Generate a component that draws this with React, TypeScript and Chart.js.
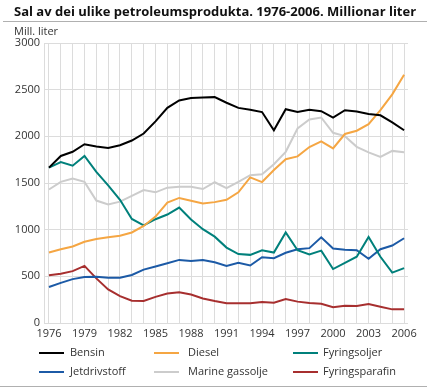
import React, { useEffect, useRef } from "react";
import { Chart, registerables } from "chart.js";

Chart.register(...registerables);

const years = [
  1976, 1977, 1978, 1979, 1980, 1981, 1982, 1983, 1984, 1985, 1986, 1987, 1988, 1989, 1990,
  1991, 1992, 1993, 1994, 1995, 1996, 1997, 1998, 1999, 2000, 2001, 2002, 2003, 2004, 2005, 2006,
];
const bensin = [
  1665, 1790, 1835, 1915, 1890, 1875, 1905, 1955, 2030, 2160, 2305, 2385, 2410, 2415, 2420,
  2360, 2305, 2285, 2260, 2065, 2290, 2260, 2285, 2270, 2200, 2280, 2265, 2240, 2225, 2150, 2065,
];
const diesel = [
  755, 790, 820, 870, 900, 918, 935, 970, 1040, 1140, 1290, 1340, 1310, 1280, 1295,
  1320, 1400, 1560, 1510, 1640, 1755, 1785, 1885, 1945, 1870, 2025, 2060, 2130, 2280, 2450, 2660,
];
const fyringsoljer = [
  1665, 1725, 1685, 1790, 1620, 1475, 1320, 1115, 1045, 1112, 1162, 1237, 1110, 1005, 925,
  808, 738, 730, 778, 755, 970, 780, 735, 775, 578, 645, 710, 922, 710, 540, 588,
];
const jetdrivstoff = [
  385, 430, 470, 492, 495, 485, 485, 515, 572, 605, 640, 676, 665, 676, 650,
  612, 644, 616, 705, 695, 752, 790, 802, 918, 798, 784, 780, 688, 790, 830, 908,
];
const marineGassolje = [
  1430, 1512, 1548, 1512, 1312, 1270, 1300, 1362, 1424, 1400, 1450, 1460, 1460, 1435, 1508,
  1444, 1512, 1584, 1594, 1702, 1834, 2084, 2180, 2202, 2038, 2002, 1888, 1828, 1780, 1844, 1830,
];
const fyringsparafin = [
  512, 528, 556, 612, 478, 360, 288, 238, 235, 280, 316, 330, 305, 262, 235,
  211, 211, 211, 224, 218, 256, 229, 214, 207, 168, 186, 182, 203, 175, 146, 146,
];
const yTicks = [0, 500, 1000, 1500, 2000, 2500, 3000];
const labelEvery = 3;

const seriesNames = ["Bensin", "Diesel", "Fyringsoljer", "Jetdrivstoff", "Marine gassolje", "Fyringsparafin"];
const seriesColors = ["#000000", "#f5a643", "#00807b", "#1c5aa6", "#cccccc", "#a72f2f"];
const seriesData = [bensin, diesel, fyringsoljer, jetdrivstoff, marineGassolje, fyringsparafin];

const FONT = "'Open Sans', 'DejaVu Sans', sans-serif";

export default function App() {
  const ref = useRef<HTMLCanvasElement>(null);

  useEffect(() => {
    document.body.style.margin = "0";
    const ctx = ref.current!;
    const chart = new Chart(ctx, {
      type: "line",
      data: {
        datasets: seriesNames.map((name, i) => ({
          label: name,
          data: years.map((y, j) => ({ x: y, y: seriesData[i][j] })),
          borderColor: seriesColors[i],
          backgroundColor: seriesColors[i],
          borderWidth: 2,
          pointRadius: 0,
          tension: 0,
          fill: false,
        })),
      },
      options: {
        animation: false,
        responsive: false,
        maintainAspectRatio: false,
        layout: { padding: { left: 0, right: 19, top: 43, bottom: 46 } },
        plugins: { legend: { display: false }, tooltip: { enabled: false }, title: { display: false } },
        scales: {
          x: {
            type: "linear",
            min: 1975.58,
            max: 2006.33,
            afterFit: (s: any) => {
              s.height = 20;
            },
            afterBuildTicks: (s: any) => {
              s.ticks = years.map((y) => ({ value: y }));
            },
            ticks: {
              autoSkip: false,
              maxRotation: 0,
              padding: 4,
              color: "#333333",
              font: { family: FONT, size: 11 },
              callback: (v: any) => ((Number(v) - years[0]) % labelEvery === 0 ? String(v) : ""),
            },
            grid: { color: "#dcdcdc", lineWidth: 1, drawTicks: false },
            border: { display: false },
          },
          y: {
            min: 0,
            max: 3000,
            afterFit: (s: any) => {
              s.width = 44;
            },
            afterBuildTicks: (s: any) => {
              s.ticks = yTicks.map((v) => ({ value: v }));
            },
            ticks: {
              padding: 4,
              color: "#333333",
              font: { family: FONT, size: 11 },
              callback: (v: any) => String(v),
            },
            grid: { color: "#dcdcdc", lineWidth: 1, drawTicks: false },
            border: { display: true, color: "#dcdcdc" },
          },
        },
      },
    });
    return () => chart.destroy();
  }, []);

  const legendCols = [
    { line: 39, text: 70 },
    { line: 154, text: 188 },
    { line: 293, text: 323 },
  ];
  const legendRows = [353, 372];

  return (
    <div style={{ position: "absolute", left: 0, top: 0, width: 427, height: 389, fontFamily: FONT, color: "#222" }}>
      <canvas ref={ref} width={427} height={389} style={{ position: "absolute", left: 0, top: 0, width: 427, height: 389 }} />
      <div style={{ position: "absolute", left: 14, top: 2, fontSize: 13, fontWeight: 700, whiteSpace: "nowrap", color: "#111" }}>
        Sal av dei ulike petroleumsprodukta. 1976-2006. Millionar liter
      </div>
      <div style={{ position: "absolute", left: 3, top: 21, width: 424, height: 1, background: "#b0b0b0" }} />
      <div style={{ position: "absolute", left: 14, top: 23, fontSize: 11, color: "#333", whiteSpace: "nowrap" }}>Mill. liter</div>
      {seriesNames.map((name, i) => {
        const col = legendCols[i % 3];
        const row = legendRows[Math.floor(i / 3)];
        return (
          <React.Fragment key={name}>
            <div style={{ position: "absolute", left: col.line, top: row - 1, width: 25, height: 2, background: seriesColors[i] }} />
            <div style={{ position: "absolute", left: col.text, top: row - 9, fontSize: 11, lineHeight: "16px", color: "#333", whiteSpace: "nowrap" }}>
              {name}
            </div>
          </React.Fragment>
        );
      })}
      <div style={{ position: "absolute", left: 0, top: 386, width: 427, height: 1, background: "#b0b0b0" }} />
    </div>
  );
}
